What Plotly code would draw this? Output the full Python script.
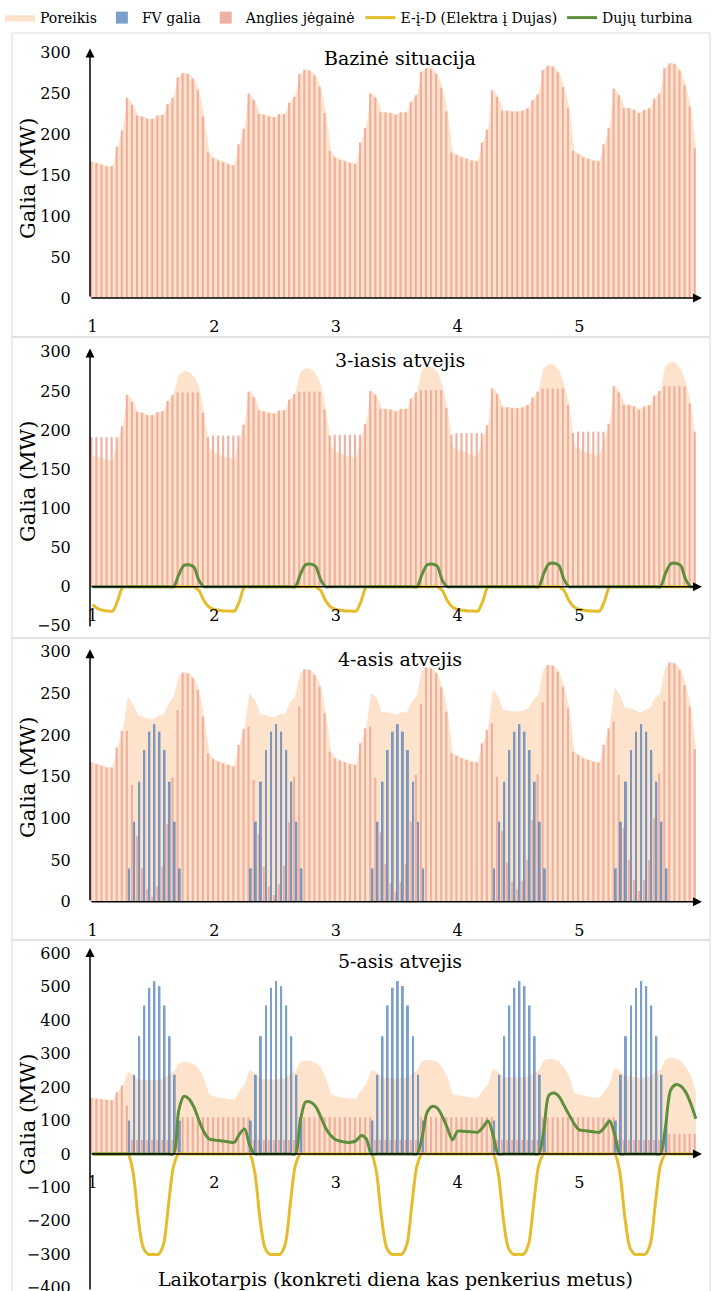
import plotly.graph_objects as go

W, H = 724, 1291
FONT = "DejaVu Serif"

hours = list(range(120))
day_tick_vals = [0, 24, 48, 72, 96]
day_tick_text = ["1", "2", "3", "4", "5"]

# ---- Poreikis (demand), one list per day (24 hourly values) ----
dem_d1 = [167,165,163,161,161,185,205,245,236,223,222,219,219,223,224,237,245,270,275,274,268,254,222,178]
dem_d2 = [171,168,166,164,162,188,207,250,242,225,224,222,221,225,225,239,246,274,279,278,272,258,226,180]
dem_d3 = [172,169,167,165,164,190,208,250,245,227,227,226,224,227,227,240,248,277,281,280,274,257,228,178]
dem_d4 = [175,172,170,168,167,190,206,254,246,229,229,228,228,229,232,242,249,279,284,283,276,258,232,180]
dem_d5 = [176,172,170,168,167,188,208,256,248,232,232,230,226,230,232,244,250,281,287,286,278,260,234,183]
demand = dem_d1 + dem_d2 + dem_d3 + dem_d4 + dem_d5

# ---- Bazinė situacija ----
coal_base = dem_d1 + dem_d2 + dem_d3 + dem_d4 + dem_d5

# ---- 3-iasis atvejis ----
coal3_d1 = [191,191,191,191,191,191,205,245,236,223,222,219,219,223,224,237,245,248,248,248,248,248,222,191]
coal3_d2 = [193,193,193,193,193,193,207,249,242,225,224,222,221,225,225,239,246,249,249,249,249,249,226,193]
coal3_d3 = [194,194,194,194,194,194,208,250,245,227,227,226,224,227,227,240,248,251,251,251,251,251,228,194]
coal3_d4 = [196,196,196,196,196,196,206,253,246,229,229,228,228,229,232,242,249,253,253,253,253,253,232,196]
coal3_d5 = [198,198,198,198,198,198,208,256,248,232,232,230,226,230,232,244,250,256,256,256,256,256,234,198]
coal3 = coal3_d1 + coal3_d2 + coal3_d3 + coal3_d4 + coal3_d5

eid3_d1 = [-23,-28,-30,-31,-31,-17,0,0,0,0,0,0,0,0,0,0,0,0,0,0,0,-5,-18,-26]
eid3_d2 = [-29,-30,-31,-31,-31,-18,0,0,0,0,0,0,0,0,0,0,0,0,0,0,0,-5,-18,-26]
eid3_d3 = [-29,-30,-31,-31,-31,-18,0,0,0,0,0,0,0,0,0,0,0,0,0,0,0,-5,-18,-26]
eid3_d4 = [-29,-30,-31,-31,-31,-18,0,0,0,0,0,0,0,0,0,0,0,0,0,0,0,-5,-18,-26]
eid3_d5 = [-29,-30,-31,-31,-31,-18,0,0,0,0,0,0,0,0,0,0,0,0,0,0,0,0,0,0]
eid3 = eid3_d1 + eid3_d2 + eid3_d3 + eid3_d4 + eid3_d5

gas3_d1 = [0,0,0,0,0,0,0,0,0,0,0,0,0,0,0,0,0,15,27,28,25,8,0,0]
gas3_d2 = [0,0,0,0,0,0,0,0,0,0,0,0,0,0,0,0,0,16,28,29,26,9,0,0]
gas3_d3 = [0,0,0,0,0,0,0,0,0,0,0,0,0,0,0,0,0,16,28,29,26,8,0,0]
gas3_d4 = [0,0,0,0,0,0,0,0,0,0,0,0,0,0,0,0,0,17,29,30,27,9,0,0]
gas3_d5 = [0,0,0,0,0,0,0,0,0,0,0,0,0,0,0,0,0,17,29,30,27,9,0,0]
gas3 = gas3_d1 + gas3_d2 + gas3_d3 + gas3_d4 + gas3_d5

# ---- 4-asis atvejis ----
fv4_day = [0,0,0,0,0,0,0,40,96,144,182,204,213,204,182,144,96,40,0,0,0,0,0,0]
fv4 = fv4_day + fv4_day + fv4_day + fv4_day + fv4_day
coal4_d1 = [167,165,163,161,161,185,205,205,140,79,40,15,6,19,42,93,149,230,275,274,268,254,222,178]
coal4_d2 = [171,168,166,164,162,188,207,210,146,81,42,18,8,21,43,95,150,234,279,278,272,258,226,180]
coal4_d3 = [172,169,167,165,164,190,208,210,149,83,45,22,11,23,45,96,152,237,281,280,274,257,228,178]
coal4_d4 = [175,172,170,168,167,190,206,214,150,85,47,24,15,25,50,98,153,239,284,283,276,258,232,180]
coal4_d5 = [176,172,170,168,167,188,208,216,152,88,50,26,13,26,50,100,154,241,287,286,278,260,234,183]
coal4 = coal4_d1 + coal4_d2 + coal4_d3 + coal4_d4 + coal4_d5

# ---- 5-asis atvejis ----
fv5_day = [0,0,0,0,0,0,0,100,237,352,444,497,517,502,444,352,237,100,0,0,0,0,0,0]
fv5 = fv5_day + fv5_day + fv5_day + fv5_day + fv5_day
coal5_d1 = [167,165,163,161,161,185,205,145,42,42,42,42,42,42,42,42,42,110,110,110,110,110,110,110]
coal5_d2 = [110,110,110,110,110,110,110,110,42,42,42,42,42,42,42,42,42,110,110,110,110,110,110,110]
coal5_d3 = [110,110,110,110,110,110,110,110,42,42,42,42,42,42,42,42,42,110,110,110,110,110,110,110]
coal5_d4 = [110,110,110,110,110,110,110,110,42,42,42,42,42,42,42,42,42,110,110,110,110,110,110,110]
coal5_d5 = [110,110,110,110,110,110,110,110,42,42,42,42,42,42,42,42,42,60,60,60,60,60,60,60]
coal5 = coal5_d1 + coal5_d2 + coal5_d3 + coal5_d4 + coal5_d5

eid5_day = [0,0,0,0,0,0,0,0,-55,-190,-280,-300,-300,-300,-270,-150,-35,0,0,0,0,0,0,0]
eid5 = eid5_day + eid5_day + eid5_day + eid5_day + eid5_day

gas5_d1 = [0,0,0,0,0,0,0,0,0,0,0,0,0,0,0,0,0,130,172,165,140,100,65,45]
gas5_d2 = [42,40,38,36,35,60,75,25,0,0,0,0,0,0,0,0,0,100,155,155,142,112,77,55]
gas5_d3 = [42,38,35,35,40,55,45,0,0,0,0,0,0,0,0,0,0,50,125,142,137,112,77,42]
gas5_d4 = [68,68,67,66,65,80,99,57,0,0,0,0,0,0,0,0,0,70,175,182,172,145,117,90]
gas5_d5 = [72,70,68,66,65,80,99,57,0,0,0,0,0,0,0,0,0,80,190,207,203,185,150,105]
gas5 = gas5_d1 + gas5_d2 + gas5_d3 + gas5_d4 + gas5_d5

panel_titles = ["Bazinė situacija", "3-iasis atvejis", "4-asis atvejis", "5-asis atvejis"]

# colours
C_DEM = "#fde3cc"
C_FV = "#4f81bd"
C_COAL = "#f0a999"
C_EID = "#e5bd2c"
C_GAS = "#5e8f3c"

def py(px):
    return 1 - px / H

def pxx(px):
    return px / W

# layout geometry of each panel (pixel positions)
panels = [
    dict(top=40, bottom=298, zero=298, rng=[0, 315.5], ticks=list(range(0, 301, 50)),
         coal=coal_base, fv=None, eid=None, gas=None, arrow_top=305, title_y=58, ylab_y=179,
         box=(33, 337)),
    dict(top=345, bottom=628, zero=586.7, rng=[-52.7, 308.6], ticks=list(range(-50, 301, 50)),
         coal=coal3, fv=None, eid=eid3, gas=gas3, arrow_top=304, title_y=360, ylab_y=482,
         box=(337, 638)),
    dict(top=645, bottom=901.7, zero=901.7, rng=[0, 308.0], ticks=list(range(0, 301, 50)),
         coal=coal4, fv=fv4, eid=None, gas=None, arrow_top=303, title_y=659, ylab_y=778,
         box=(638, 940)),
    dict(top=947, bottom=1291, zero=1154, rng=[-409.6, 618.8], ticks=list(range(-400, 601, 100)),
         coal=coal5, fv=fv5, eid=eid5, gas=gas5, arrow_top=616, title_y=961, ylab_y=1115,
         box=(940, 1300)),
]

fig = go.Figure()
layout = dict(
    width=W, height=H, margin=dict(l=0, r=0, t=0, b=0, autoexpand=False),
    paper_bgcolor="white", plot_bgcolor="rgba(0,0,0,0)",
    barmode="overlay",
    font=dict(family=FONT, size=16, color="black"),
    showlegend=True,
    legend=dict(orientation="h", x=0.0, xanchor="left", y=py(18), yanchor="middle",
                font=dict(family=FONT, size=14, color="black"), itemwidth=30,
                bgcolor="rgba(0,0,0,0)", traceorder="normal"),
)
annotations = []
shapes = []

shown = set()

def leg(name):
    if name in shown:
        return False
    shown.add(name)
    return True

X_DOMAIN = [pxx(90), pxx(705)]
X_RANGE = [-0.5, 120.8]

for k, p in enumerate(panels, start=1):
    xa = "x" if k == 1 else f"x{k}"
    ya = "y" if k == 1 else f"y{k}"
    yo = f"y{k + 4}"
    dom = [py(p["bottom"]), py(p["top"])]
    layout[f"xaxis{'' if k == 1 else k}"] = dict(
        domain=X_DOMAIN, range=X_RANGE, anchor="free", position=py(p["zero"]),
        tickmode="array", tickvals=day_tick_vals, ticktext=day_tick_text,
        showline=False, showgrid=False, zeroline=False,
        ticks="outside", ticklen=14, tickcolor="rgba(0,0,0,0)",
        tickfont=dict(family=FONT, size=16, color="black"), fixedrange=True,
    )
    layout[f"yaxis{'' if k == 1 else k}"] = dict(
        domain=dom, range=p["rng"], anchor=xa,
        tickmode="array", tickvals=p["ticks"],
        showline=False, showgrid=False, zeroline=False,
        ticks="outside", ticklen=15, tickcolor="rgba(0,0,0,0)",
        ticklabeloverflow="allow",
        tickfont=dict(family=FONT, size=16, color="black"), fixedrange=True,
    )
    layout[f"yaxis{k + 4}"] = dict(
        overlaying=ya, anchor=xa, range=p["rng"], visible=False, fixedrange=True,
    )

    # demand area on the base subplot
    fig.add_trace(go.Scatter(
        x=hours, y=demand, mode="lines", fill="tozeroy", fillcolor=C_DEM,
        line=dict(width=0.5, color=C_DEM), name="Poreikis", legendrank=1,
        showlegend=leg("Poreikis"), xaxis=xa, yaxis=ya, hoverinfo="skip"))

    # bars on the overlay subplot
    fig.add_trace(go.Bar(
        x=hours, y=p["coal"], width=0.42, offset=-0.44, marker=dict(color=C_COAL, line=dict(width=0)),
        opacity=0.9, name="Anglies jėgainė", legendrank=3, showlegend=leg("Anglies jėgainė"),
        xaxis=xa, yaxis=yo))
    if p["fv"] is not None:
        fig.add_trace(go.Bar(
            x=hours, y=p["fv"], width=0.38, offset=0.02, marker=dict(color=C_FV, line=dict(width=0)),
            opacity=0.75, name="FV galia", legendrank=2, showlegend=leg("FV galia"),
            xaxis=xa, yaxis=yo))
    if p["eid"] is not None:
        fig.add_trace(go.Scatter(
            x=hours, y=p["eid"], mode="lines", line=dict(color=C_EID, width=3, shape="spline", smoothing=0.8),
            name="E-į-D (Elektra į Dujas)", legendrank=4, showlegend=leg("E-į-D (Elektra į Dujas)"),
            xaxis=xa, yaxis=yo))
    if p["gas"] is not None:
        fig.add_trace(go.Scatter(
            x=hours, y=p["gas"], mode="lines", line=dict(color=C_GAS, width=3, shape="spline", smoothing=0.8),
            name="Dujų turbina", legendrank=5, showlegend=leg("Dujų turbina"),
            xaxis=xa, yaxis=yo))

    # axis lines with arrows
    annotations.append(dict(x=120.2, y=0, ax=-0.5, ay=0, xref=xa, yref=ya, axref=xa, ayref=ya,
                            showarrow=True, arrowhead=2, arrowsize=1.2, arrowwidth=1.5,
                            arrowcolor="black", text=""))
    annotations.append(dict(x=-0.5, y=p["arrow_top"], ax=-0.5, ay=p["rng"][0], xref=xa, yref=ya,
                            axref=xa, ayref=ya, showarrow=True, arrowhead=2, arrowsize=1.2,
                            arrowwidth=1.5, arrowcolor="black", text=""))
    # titles
    annotations.append(dict(text=panel_titles[k - 1], x=pxx(400), y=py(p["title_y"]), xref="paper",
                            yref="paper", showarrow=False, xanchor="center", yanchor="middle",
                            font=dict(family=FONT, size=19, color="black")))
    annotations.append(dict(text="Galia (MW)", x=pxx(28), y=py(p["ylab_y"]), xref="paper",
                            yref="paper", showarrow=False, textangle=-90, xanchor="center",
                            yanchor="middle", font=dict(family=FONT, size=21, color="black")))
    shapes.append(dict(type="rect", xref="paper", yref="paper", x0=pxx(12), x1=pxx(710),
                       y0=py(p["box"][1]), y1=py(p["box"][0]), line=dict(color="#d9d9d9", width=1),
                       fillcolor="rgba(0,0,0,0)", layer="below"))

annotations.append(dict(text="Laikotarpis (konkreti diena kas penkerius metus)", x=pxx(395), y=py(1279),
                        xref="paper", yref="paper", showarrow=False, xanchor="center", yanchor="middle",
                        font=dict(family=FONT, size=19, color="black")))

layout["annotations"] = annotations
layout["shapes"] = shapes
fig.update_layout(**layout)
fig.write_html("out.html")
